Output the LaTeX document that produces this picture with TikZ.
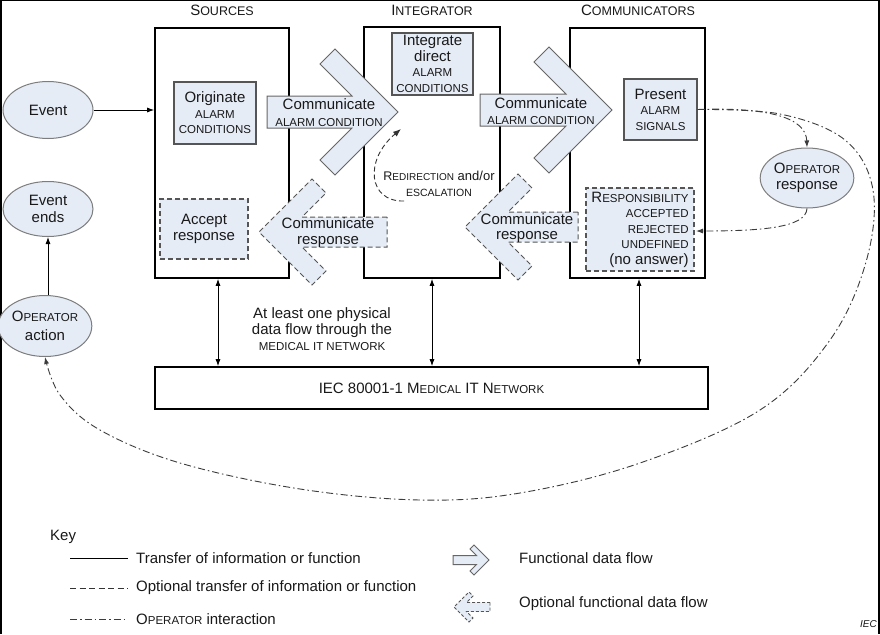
\documentclass[tikz,border=0pt]{standalone}
\usepackage{fontspec}
\setmainfont{Liberation Sans}
\usetikzlibrary{shapes.geometric,arrows.meta}
\definecolor{lb}{RGB}{229,236,246}
\definecolor{edg}{RGB}{85,85,85}
\definecolor{ellb}{RGB}{125,125,125}
\definecolor{opc}{RGB}{60,60,60}
\newcommand\smc[1]{{\fontsize{11.5}{15}\selectfont #1}}
\newcommand\tsmc[1]{{\fontsize{12.5}{15}\selectfont #1}}
% #1 style, #2 sign, #3 tail x, #4 tip x, #5 centre y, #6 half tail height, #7 arm reach, #8 arm offset
\newcommand\chevron[8][]{%
 \draw[#1] (#3,{#5-#6}) -- ({#4-(#2)*(2*#8+#6)},{#5-#6}) -- ({#4-(#2)*(#7+#8)},{#5-#7+#8})
  -- ({#4-(#2)*#7},{#5-#7}) -- (#4,#5) -- ({#4-(#2)*#7},{#5+#7})
  -- ({#4-(#2)*(#7+#8)},{#5+#7-#8}) -- ({#4-(#2)*(2*#8+#6)},{#5+#6}) -- (#3,{#5+#6}) -- cycle;}
\tikzset{
 every node/.style={font=\fontsize{15}{16}\selectfont, inner sep=0pt, align=center, text=black!90},
 mainbox/.style={draw=black, line width=1.6pt, fill=white},
 inbox/.style={draw=edg, line width=1.2pt, fill=lb, font=\fontsize{15}{15.5}\selectfont},
 optbox/.style={draw=edg, line width=1.2pt, fill=lb, dash pattern=on 5pt off 3pt, font=\fontsize{15}{15.5}\selectfont},
 ell/.style={ellipse, draw=ellb, line width=1pt, fill=lb},
 solidchev/.style={draw=edg!90, line width=1pt, fill=lb, line join=miter},
 dashchev/.style={draw=edg, line width=1pt, fill=lb, dash pattern=on 5pt off 3pt},
 keydash/.style={draw=edg, line width=0.9pt, fill=lb, dash pattern=on 3pt off 2pt},
 arr/.style={draw=black, line width=0.9pt, -{Latex[length=7pt,width=5pt]}},
 biarr/.style={draw=black, line width=0.9pt, {Latex[length=7pt,width=5pt]}-{Latex[length=7pt,width=5pt]}},
 optarr/.style={draw=black!80, line width=0.9pt, dash pattern=on 5pt off 3pt, -{Latex[length=8pt,width=6pt]}},
 opline/.style={draw=opc, line width=0.9pt, dash pattern=on 7pt off 3pt on 1.5pt off 3pt},
 atext/.style={font=\fontsize{15}{16}\selectfont},
}
\begin{document}
\begin{tikzpicture}[x=1pt,y=-1pt]
\useasboundingbox (0,0) rectangle (880,634);
\fill[white] (0,0) rectangle (880,634);
% frame edges
\fill[black] (0,0) rectangle (880,1.5);
\fill[black] (0,0) rectangle (1.5,634);
\fill[black] (878,0) rectangle (880,634);

% column titles
\node (tsrc) at (222,10) {S\tsmc{OURCES}};
\node (tint) at (432,10) {I\tsmc{NTEGRATOR}};
\node (tcom) at (638,10) {C\tsmc{OMMUNICATORS}};

% main boxes
\node[mainbox, minimum width=134pt, minimum height=250pt] (src) at (222,153) {};
\node[mainbox, minimum width=136pt, minimum height=251pt] (int) at (432,152.5) {};
\node[mainbox, minimum width=135pt, minimum height=250pt] (com) at (637.5,153) {};
\node[mainbox, minimum width=553pt, minimum height=42pt] (net) at (431.5,388) {IEC 80001-1 M\smc{EDICAL} IT N\smc{ETWORK}};

% inner boxes
\node[inbox, minimum width=82pt, minimum height=62pt] (orig) at (215,113) {Originate\\\smc{ALARM}\\\smc{CONDITIONS}};
\node[inbox, minimum width=81pt, minimum height=62pt] (integ) at (432.5,64) {Integrate\\direct\\\smc{ALARM}\\\smc{CONDITIONS}};
\node[inbox, minimum width=73pt, minimum height=61pt] (present) at (660.5,109.5) {Present\\\smc{ALARM}\\\smc{SIGNALS}};
\node[optbox, minimum width=88pt, minimum height=60pt] (accept) at (204,229) {Accept\\response};
\node[optbox, minimum width=108pt, minimum height=83pt, align=right] (resp) at (640,229.5) {R\smc{ESPONSIBILITY}\\\smc{ACCEPTED}\\\smc{REJECTED}\\\smc{UNDEFINED}\\(no answer)};

% functional data flows
\chevron[solidchev]{1}{267}{398}{112}{16}{63}{15}
\chevron[solidchev]{1}{480}{612}{110}{16}{63}{15}
\chevron[dashchev]{-1}{387}{259}{232}{15}{53}{14}
\chevron[dashchev]{-1}{578}{465}{227}{15}{53}{14}
\node[atext, font=\fontsize{15}{17}\selectfont] (f1) at (329,113) {Communicate\\\smc{ALARM CONDITION}};
\node[atext] (f2) at (541,111) {Communicate\\\smc{ALARM CONDITION}};
\node[atext] (f3) at (328,233) {Communicate\\response};
\node[atext, font=\fontsize{15}{15.5}\selectfont] (f4) at (527,228) {Communicate\\response};

% redirection
\coordinate (rA) at (404,201);
\coordinate (rB) at (401,129);
\draw[optarr] (rA) .. controls (368,202) and (364,160) .. (rB);
\node (redir) at (439,184) {{\fontsize{12.5}{15}\selectfont R}{\fontsize{10}{15}\selectfont EDIRECTION}{\fontsize{13}{15}\selectfont{} and/or}\\{\fontsize{10.5}{15}\selectfont ESCALATION}};

% ellipses
\node[ell, minimum width=90pt, minimum height=57pt] (event) at (48,110) {Event};
\node[ell, minimum width=90pt, minimum height=55pt, font=\fontsize{15}{17}\selectfont] (evends) at (48,209) {Event\\ends};
\node[ell, minimum width=85pt, minimum height=61pt, font=\fontsize{15}{19}\selectfont] (opact) at (45,326) {O\smc{PERATOR}\\action};
\node[ell, minimum width=90pt, minimum height=60pt] (opresp) at (807,178) {O\smc{PERATOR}\\response};

% solid connectors
\draw[arr] (event.east) -- (event.east -| src.west);
\draw[arr] (opact.north -| evends.south) -- (evends.south);
\draw[biarr] ([xshift=-4pt]src.south) -- ([xshift=-4pt]src.south |- net.north);
\draw[biarr] (int.south) -- (int.south |- net.north);
\draw[biarr] ([xshift=1.5pt]com.south) -- ([xshift=1.5pt]com.south |- net.north);
\node (phys) at (322,329) {At least one physical\\data flow through the\\\smc{MEDICAL IT NETWORK}};

% operator interaction
\coordinate (rej) at (696,231);
\draw[opline, -{Latex[length=7pt,width=5pt]}] (present.east) .. controls (770,107) and (806,118) .. (opresp.north);
\draw[opline, -{Latex[length=7pt,width=5pt]}] (opresp.south) .. controls (806,228) and (760,231) .. (rej);
\draw[opline, -{Latex[length=7pt,width=5pt]}] plot[smooth, tension=0.6] coordinates {(present.east) (780,114) (845,140) (873,190) (866,262) (830,340) (760,410) (640,463) (520,493) (420,500) (300,489) (180,463) (100,430) (60,395) (opact.south)};

% key
\node[anchor=west] (key) at (50,537) {Key};
\coordinate (k1a) at (70,558); \coordinate (k1b) at (128,558);
\coordinate (k2a) at (70,588); \coordinate (k2b) at (128,588);
\coordinate (k3a) at (70,619); \coordinate (k3b) at (128,619);
\draw[black, line width=0.9pt] (k1a) -- (k1b);
\draw[black!80, line width=0.9pt, dash pattern=on 6pt off 3.5pt] (k2a) -- (k2b);
\draw[opline] (k3a) -- (k3b);
\node[anchor=west] (kt1) at (136,558) {Transfer of information or function};
\node[anchor=west] (kt2) at (136,588) {Optional transfer of information or function};
\node[anchor=west] (kt3) at (136,619) {O\smc{PERATOR} interaction};
\chevron[solidchev]{1}{453}{489}{560}{4.5}{15}{4}
\chevron[keydash]{-1}{490}{454}{607}{4.5}{15}{4}
\node[anchor=west] (kt4) at (519,558) {Functional data flow};
\node[anchor=west] (kt5) at (519,604) {Optional functional data flow};
\node[anchor=east, font=\fontsize{10}{12}\selectfont\itshape] (iec) at (877,624) {IEC};
\end{tikzpicture}
\end{document}
